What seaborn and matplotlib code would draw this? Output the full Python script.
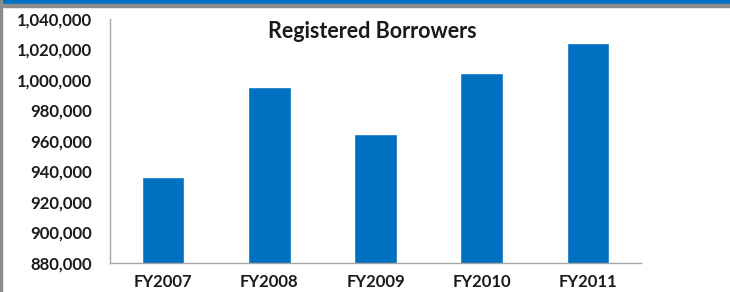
import matplotlib
matplotlib.use("Agg")
import matplotlib.pyplot as plt
import matplotlib.ticker as mticker
from matplotlib.patches import Rectangle
import seaborn as sns
import pandas as pd

# datos
years = ["FY2007", "FY2008", "FY2009", "FY2010", "FY2011"]
borrowers = [936500, 995200, 964700, 1004800, 1024100]

df = pd.DataFrame({"Year": years, "Borrowers": borrowers})

sns.set_style("white")
plt.rcParams["font.family"] = ["Lato", "DejaVu Sans"]

fig = plt.figure(figsize=(7.3, 2.92), dpi=100)
ax = fig.add_axes([110 / 730, 1 - 263 / 292, 531 / 730, 244 / 292])

sns.barplot(data=df, x="Year", y="Borrowers", color="#0070C0", width=0.4,
            saturation=1, ax=ax)

ax.set_ylim(880000, 1040000)
ax.set_xlim(-0.5, 4.5)
ax.yaxis.set_major_locator(mticker.MultipleLocator(20000))
ax.yaxis.set_major_formatter(mticker.FuncFormatter(lambda v, p: f"{int(v):,}"))
ax.set_xlabel("")
ax.set_ylabel("")

# ticks del eje x entre categorias
ax.set_xticks([i - 0.5 for i in range(len(years) + 1)], minor=True)
ax.tick_params(axis="x", which="major", length=0, pad=8)
ax.tick_params(axis="x", which="minor", length=6, color="#A6A6A6", direction="out")
ax.tick_params(axis="y", length=5, color="#A6A6A6", direction="out", pad=8)
for lab in ax.get_xticklabels():
    lab.set_fontweight("bold")
    lab.set_fontsize(12)
    lab.set_color("#1a1a1a")
for lab in ax.get_yticklabels():
    lab.set_fontweight("bold")
    lab.set_fontsize(12)
    lab.set_color("#1a1a1a")

for s in ["top", "right"]:
    ax.spines[s].set_visible(False)
for s in ["left", "bottom"]:
    ax.spines[s].set_color("#A6A6A6")
    ax.spines[s].set_linewidth(1)

fig.text(372 / 730, 1 - 31 / 292, "Registered Borrowers", ha="center", va="center",
         fontsize=15.5, fontweight="bold", color="#1a1a1a")

# marco
fig.patches.append(Rectangle((0, 1 - 4 / 292), 1, 4 / 292, transform=fig.transFigure,
                             color="#0070C0", zorder=5))
fig.patches.append(Rectangle((0, 1 - 7 / 292), 1, 3 / 292, transform=fig.transFigure,
                             color="#8C8C8C", zorder=5))
fig.patches.append(Rectangle((0, 0), 2 / 730, 1, transform=fig.transFigure,
                             color="#8C8C8C", zorder=5))

fig.savefig("out.png", dpi=100)
